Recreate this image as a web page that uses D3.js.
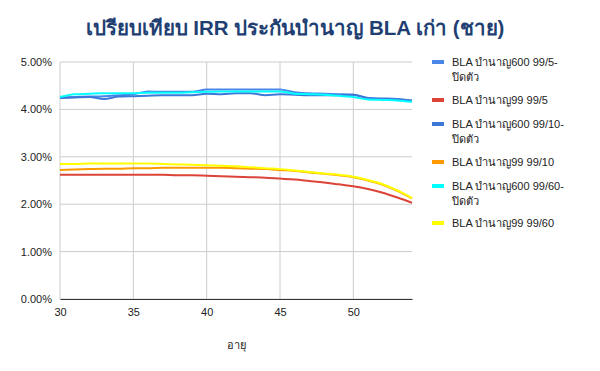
<!DOCTYPE html>
<html>
<head>
<meta charset="utf-8">
<script src="https://cdn.jsdelivr.net/npm/d3@7"></script>
<style>
  body { margin: 0; background: #fff; }
  svg text { font-family: Arial, "Liberation Sans", "Noto Sans", sans-serif; }
</style>
</head>
<body>
<div id="chart"></div>
<script>
// ages on the x axis
var ages = d3.range(30, 55);

var seriesNames = [
  'BLA บำนาญ600 99/5-|ปิดตัว',
  'BLA บำนาญ99 99/5',
  'BLA บำนาญ600 99/10-|ปิดตัว',
  'BLA บำนาญ99 99/10',
  'BLA บำนาญ600 99/60-|ปิดตัว',
  'BLA บำนาญ99 99/60'
];
var seriesColors = ['#4a86e8', '#db4437', '#3c78d8', '#ff9900', '#00ffff', '#ffff00'];

// IRR in percent, one value per age 30..54
var bla600_5 = [4.25, 4.26, 4.27, 4.28, 4.30, 4.32, 4.38, 4.37, 4.37, 4.37, 4.42, 4.42, 4.42,
                4.42, 4.42, 4.42, 4.36, 4.34, 4.33, 4.32, 4.31, 4.24, 4.23, 4.22, 4.19];
var bla99_5 = [2.62, 2.62, 2.62, 2.62, 2.62, 2.62, 2.62, 2.62, 2.61, 2.61, 2.60, 2.59, 2.58,
               2.57, 2.56, 2.54, 2.52, 2.49, 2.46, 2.42, 2.38, 2.32, 2.24, 2.14, 2.03];
var bla600_10 = [4.24, 4.25, 4.26, 4.22, 4.27, 4.28, 4.29, 4.30, 4.30, 4.30, 4.33, 4.32, 4.34,
                 4.34, 4.30, 4.32, 4.31, 4.30, 4.30, 4.30, 4.31, 4.24, 4.22, 4.21, 4.18];
var bla99_10 = [2.72, 2.73, 2.74, 2.75, 2.75, 2.76, 2.76, 2.77, 2.77, 2.77, 2.77, 2.77, 2.76,
                2.75, 2.74, 2.72, 2.70, 2.67, 2.64, 2.61, 2.57, 2.50, 2.41, 2.28, 2.12];
var bla600_60 = [4.26, 4.32, 4.33, 4.34, 4.34, 4.34, 4.35, 4.35, 4.35, 4.36, 4.37, 4.38, 4.38,
                 4.38, 4.38, 4.38, 4.33, 4.32, 4.31, 4.29, 4.26, 4.21, 4.20, 4.19, 4.16];
var bla99_60 = [2.85, 2.85, 2.86, 2.86, 2.86, 2.86, 2.86, 2.85, 2.84, 2.83, 2.82, 2.81, 2.80,
                2.78, 2.76, 2.74, 2.71, 2.68, 2.65, 2.62, 2.58, 2.51, 2.42, 2.29, 2.13];

var allSeries = [bla600_5, bla99_5, bla600_10, bla99_10, bla600_60, bla99_60];

var xTicks = [30, 35, 40, 45, 50];
var yTicks = [0, 1, 2, 3, 4, 5];

var width = 600, height = 371;
var margin = {left: 60, right: 188, top: 62, bottom: 72};

var svg = d3.select('#chart').append('svg')
    .attr('width', width)
    .attr('height', height);

var x = d3.scaleLinear()
    .domain([30, 54])
    .range([margin.left, width - margin.right]);

var y = d3.scaleLinear()
    .domain([0, 5])
    .range([height - margin.bottom, margin.top]);

// title
svg.append('text')
    .attr('x', 295)
    .attr('y', 35)
    .attr('text-anchor', 'middle')
    .attr('font-size', 20.5)
    .attr('font-weight', 'bold')
    .attr('fill', '#1f3f73')
    .text('เปรียบเทียบ IRR ประกันบำนาญ BLA เก่า (ชาย)');

// grid
var grid = svg.append('g');
grid.selectAll('line.h')
    .data(yTicks)
    .enter().append('line')
    .attr('x1', x(30)).attr('x2', x(54))
    .attr('y1', function(d) { return y(d); })
    .attr('y2', function(d) { return y(d); })
    .attr('stroke', '#cccccc');
grid.selectAll('line.v')
    .data(xTicks)
    .enter().append('line')
    .attr('y1', y(0)).attr('y2', y(5))
    .attr('x1', function(d) { return x(d); })
    .attr('x2', function(d) { return x(d); })
    .attr('stroke', '#cccccc');

// y axis labels
var yAxis = d3.axisLeft(y)
    .tickValues(yTicks)
    .tickSize(0)
    .tickPadding(8)
    .tickFormat(function(d) { return d3.format('.2f')(d) + '%'; });
var yg = svg.append('g')
    .attr('transform', 'translate(' + margin.left + ',0)')
    .call(yAxis);
yg.select('.domain').remove();
yg.selectAll('text').attr('font-size', 11).attr('fill', '#222');

// x axis
var xAxis = d3.axisBottom(x)
    .tickValues(xTicks)
    .tickSize(0)
    .tickPadding(9);
var xg = svg.append('g')
    .attr('transform', 'translate(0,' + y(0) + ')')
    .call(xAxis);
xg.select('.domain').attr('stroke', '#333').attr('stroke-width', 1.2);
xg.selectAll('text').attr('font-size', 11).attr('fill', '#222');

svg.append('text')
    .attr('x', (x(30) + x(54)) / 2)
    .attr('y', 349)
    .attr('text-anchor', 'middle')
    .attr('font-size', 11)
    .attr('fill', '#222')
    .text('อายุ');

// lines
var line = d3.line()
    .x(function(d, i) { return x(ages[i]); })
    .y(function(d) { return y(d); })
    .curve(d3.curveMonotoneX);

svg.append('g')
    .selectAll('path')
    .data(allSeries)
    .enter().append('path')
    .attr('d', line)
    .attr('fill', 'none')
    .attr('stroke', function(d, i) { return seriesColors[i]; })
    .attr('stroke-width', 2)
    .attr('stroke-linejoin', 'round');

// legend
var legendY = [62, 100, 124, 162, 186, 223];
var legend = svg.append('g');
var items = legend.selectAll('g')
    .data(seriesNames)
    .enter().append('g')
    .attr('transform', function(d, i) { return 'translate(432,' + legendY[i] + ')'; });

items.append('rect')
    .attr('x', 0).attr('y', -2)
    .attr('width', 12).attr('height', 4)
    .attr('fill', function(d, i) { return seriesColors[i]; });

items.append('text')
    .attr('x', 20)
    .attr('y', 4)
    .attr('font-size', 11)
    .attr('fill', '#222')
    .each(function(d) {
      var parts = d.split('|');
      var t = d3.select(this);
      parts.forEach(function(p, k) {
        t.append('tspan')
          .attr('x', 20)
          .attr('dy', k === 0 ? 0 : 15)
          .text(p);
      });
    });
</script>
</body>
</html>
